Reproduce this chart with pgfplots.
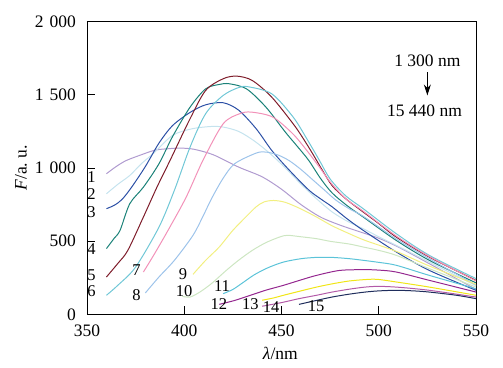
\documentclass[border=0pt]{standalone}
\usepackage{fontspec}
\setmainfont{Liberation Serif}
\usepackage{pgfplots}
\pgfplotsset{compat=1.18}
\usetikzlibrary{arrows.meta}
\definecolor{c1}{HTML}{B09BD0}
\definecolor{c2}{HTML}{C5E3EE}
\definecolor{c3}{HTML}{2B4FA5}
\definecolor{c4}{HTML}{1A8178}
\definecolor{c5}{HTML}{7E1C2A}
\definecolor{c6}{HTML}{70C7D6}
\definecolor{c7}{HTML}{F291B8}
\definecolor{c8}{HTML}{9DC3EA}
\definecolor{c9}{HTML}{F2EF80}
\definecolor{c10}{HTML}{CDE6C2}
\definecolor{c11}{HTML}{5BC3D8}
\definecolor{c12}{HTML}{94278F}
\definecolor{c13}{HTML}{F0E516}
\definecolor{c14}{HTML}{B35AA8}
\definecolor{c15}{HTML}{1F2D5C}
\begin{document}
\fontsize{17.5bp}{21bp}\selectfont
\begin{tikzpicture}
\useasboundingbox (-87bp,-53.7bp) rectangle (416bp,314.3bp);
\begin{axis}[
  at={(0,0)}, anchor=south west,
  scale only axis, width=389bp, height=292.6bp,
  xmin=350, xmax=550, ymin=0, ymax=2000,
  xtick={350,400,450,500,550},
  ytick={0,500,1000,1500,2000},
  tick pos=left, tick align=inside,
  major tick length=8bp,
  tick style={black, line width=0.8pt},
  axis line style={line width=0.8pt},
  /pgf/number format/assume math mode=true,
  /pgf/number format/1000 sep={\hspace{6bp}},
  ticklabel style={font=\fontsize{17.5bp}{21bp}\selectfont},
  xticklabel style={yshift=-5bp},
  yticklabel style={xshift=-5bp},
  xlabel={\textit{λ}/nm},
  ylabel={\textit{F}/a.\ u.},
  xlabel style={at={(axis description cs:0.497,-0.132)}, anchor=center, font=\fontsize{17.5bp}{21bp}\selectfont},
  ylabel style={at={(axis description cs:-0.17,0.5)}, anchor=center, rotate=0, font=\fontsize{17.5bp}{21bp}\selectfont},
  every axis plot/.append style={line width=1pt, no marks, smooth},
  clip=true,
]
% 1
\addplot[c1] coordinates {(360,961) (365,1010) (370,1050) (377,1086) (385,1122) (392,1132) (398,1136) (405,1128) (415,1090) (428,1006) (440,940) (450,855) (460,750) (470,665) (480,610) (490,565) (500,520) (510,460) (526,346) (550,170)};
% 2
\addplot[c2] coordinates {(360,824) (366,890) (372,949) (378,1030) (384,1098) (394,1223) (404,1268) (414,1284) (420,1280) (428,1250) (436,1185) (444,1100) (452,1000) (460,890) (468,790) (476,700) (484,635) (492,585) (500,530) (509,471) (526,357) (550,195)};
% 3
\addplot[c3] coordinates {(360,722) (364,745) (368,785) (373,870) (380,1010) (387,1170) (394,1290) (403,1380) (411,1432) (420,1446) (428,1395) (437,1268) (445,1120) (454,985) (464,850) (470,790) (476,735) (484,650) (492,574) (509,426) (526,300) (550,164)};
% 4
\addplot[c4] coordinates {(360,449) (364,520) (367,574) (372,756) (379,869) (387,1029) (394,1215) (403,1416) (411,1541) (418,1571) (423,1576) (432,1541) (442,1416) (452,1245) (458,1150) (464,1052) (470,930) (476,830) (484,740) (492,665) (509,505) (526,369) (550,215)};
% 5
\addplot[c5] coordinates {(360,255) (366,350) (371,437) (379,665) (386,870) (393,1060) (403,1337) (411,1530) (420,1610) (427,1628) (435,1598) (445,1484) (456,1302) (461,1205) (466,1098) (471,985) (476,880) (483,790) (492,699) (500,620) (509,528) (526,391) (550,232)};
% 6
\addplot[c6] coordinates {(360,130) (366,200) (375,323) (387,596) (395,850) (403,1143) (411,1371) (420,1496) (428,1550) (433,1555) (445,1507) (456,1348) (463,1200) (469.5,1052) (475,925) (483,810) (492,722) (509,551) (526,403) (550,244)};
% 7
\addplot[c7] coordinates {(379,289) (385,420) (392.6,596) (401,801) (409.6,1052) (420,1302) (428.5,1371) (434.5,1382) (445.5,1348) (455.8,1234) (463,1120) (469.5,1006) (475,905) (483,790) (492,705) (509,535) (526,395) (550,228)};
% 8
\addplot[c8] coordinates {(380,146) (387,255) (395,370) (404.5,540) (410,680) (414,790) (420,930) (426,1030) (437,1102) (442,1109) (448,1090) (454,1050) (460,990) (466,920) (472,850) (478,780) (485,720) (492,670) (509,515) (526,380) (550,200)};
% 9
\addplot[c9] coordinates {(404.5,273) (411,369) (418,460) (425,574) (432,670) (437,735) (441,768) (446,778) (452,765) (460,720) (468,665) (476,605) (485,550) (493,505) (509,430) (526,330) (550,205)};
% 10
\addplot[c10] coordinates {(399,123) (403,118) (408,152) (414,210) (421.6,300) (428,370) (435,437) (442,490) (449,528) (453,540) (460,530) (468,517) (475,499) (485,480) (492,460) (500,437) (509,403) (526,312) (550,186)};
% 11
\addplot[c11] coordinates {(420,141) (425,170) (430,215) (436,270) (443,318) (451,357) (460,380) (468,389) (476,389) (485,380) (492,369) (500,355) (509,335) (526,266) (550,175)};
% 12
\addplot[c12] coordinates {(418,68) (426,95) (434,130) (442,165) (451,198) (460,235) (468,266) (480,300) (493,305) (500,302) (509,289) (526,232) (550,152)};
% 13
\addplot[c13] coordinates {(440,96) (446,112) (451,130) (460,160) (468,186) (476,208) (485,228) (495,239) (500,238) (509,221) (526,186) (550,130)};
% 14
\addplot[c14] coordinates {(440,55) (450,80) (459,107) (468,130) (476,152) (485,172) (493,186) (500,191) (510,185) (526,164) (550,118)};
% 15
\addplot[c15] coordinates {(459,68) (467,92) (476,118) (485,138) (493,152) (500,160) (509,164) (518,160) (526,152) (540,130) (550,107)};
% curve numbers
\begin{scope}[every node/.style={inner sep=0pt, font=\fontsize{16.5bp}{18bp}\selectfont}]
\node at (axis cs:352.3,935) {1};
\node at (axis cs:352.3,820) {2};
\node at (axis cs:352.3,699) {3};
\node at (axis cs:352.3,449) {4};
\node at (axis cs:352.3,266) {5};
\node at (axis cs:352.3,157) {6};
\node at (axis cs:375.5,300) {7};
\node at (axis cs:375.5,134) {8};
\node at (axis cs:399.4,278) {9};
\node at (axis cs:399.9,157) {10};
\node at (axis cs:419.4,193) {11};
\node at (axis cs:417.8,73) {12};
\node at (axis cs:434,73) {13};
\node at (axis cs:444.7,50) {14};
\node at (axis cs:467.8,55) {15};
\end{scope}
% annotation
\node at (axis cs:525,1735) {1 300 nm};
\draw[line width=0.8pt, -{Stealth[length=11bp,width=7bp]}] (axis cs:525,1655) -- (axis cs:525,1496);
\node at (axis cs:523.5,1393) {15 440 nm};
\end{axis}
\end{tikzpicture}
\end{document}
